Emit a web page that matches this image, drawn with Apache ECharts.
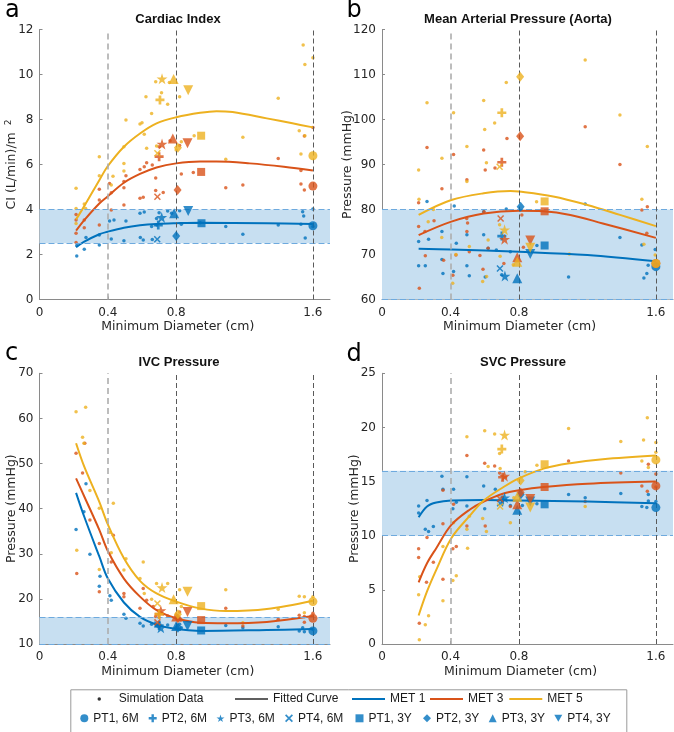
<!DOCTYPE html>
<html><head><meta charset="utf-8">
<script src="https://cdn.jsdelivr.net/npm/echarts@6/dist/echarts.min.js"></script>
<style>html,body{margin:0;padding:0;background:#fff}#c{width:674px;height:732px}</style>
</head><body><div id="c"></div>
<script>
// ---------- tick labels / axis ranges ----------
const xTicks = [0, 0.4, 0.8, 1.6];
const yMins = [0, 60, 10, 0];
const yMaxs = [12, 120, 70, 25];
const yIntervals = [2, 10, 10, 5];
const bandLo = [2.5, 60, 10, 10];
const bandHi = [4, 80, 16, 16];
const panelTitles = ['Cardiac Index', 'Mean Arterial Pressure (Aorta)', 'IVC Pressure', 'SVC Pressure'];
const panelLetters = ['a', 'b', 'c', 'd'];
const yNames = ['CI (L/min)/m {s|2}', 'Pressure (mmHg)', 'Pressure (mmHg)', 'Pressure (mmHg)'];
const metNames = ['MET 1', 'MET 3', 'MET 5'];
const ptNames = ['PT1, 6M', 'PT2, 6M', 'PT3, 6M', 'PT4, 6M', 'PT1, 3Y', 'PT2, 3Y', 'PT3, 3Y', 'PT4, 3Y'];

// ---------- panel a: Cardiac Index ----------
const aSim1 = [[0.218,1.93],[0.218,2.4],[0.262,2.23],[0.272,2.76],[0.35,2.42],[0.35,2.87],[0.41,3.49],[0.42,2.69],[0.436,3.53],[0.494,2.61],[0.506,3.49],[0.588,3.83],[0.59,2.76],[0.607,2.64],[0.613,3.89],[0.656,3.24],[0.66,2.67],[0.685,3.6],[0.687,3.31],[0.7,3.86],[0.75,3.93],[0.773,3.83],[0.82,3.95],[0.83,3.35],[0.94,3.41],[1.09,3.24],[1.19,2.9],[1.397,3.31],[1.53,3.35],[1.54,3.9],[1.555,2.73],[1.546,3.71],[1.6,4.02],[1.6,3.24]];
const aSim3 = [[0.214,3.78],[0.214,3.53],[0.214,2.94],[0.214,2.53],[0.262,3.53],[0.262,3.19],[0.35,4.9],[0.35,4.42],[0.35,3.31],[0.41,5.16],[0.42,4.75],[0.42,3.98],[0.494,5.24],[0.494,4.97],[0.494,4.2],[0.506,5.5],[0.588,5.78],[0.588,4.5],[0.607,4.54],[0.613,5.9],[0.627,6.08],[0.66,5.98],[0.68,5.4],[0.68,4.84],[0.7,6.79],[0.724,4.76],[0.764,7.06],[0.82,6.84],[0.83,5.58],[0.9,5.65],[1.09,4.97],[1.19,5.09],[1.397,6.27],[1.53,5.73],[1.53,5.13],[1.55,4.87],[1.55,7.27],[1.6,7.65]];
const aSim5 = [[0.214,4.94],[0.214,4.05],[0.214,3.38],[0.262,4.24],[0.27,4.05],[0.35,6.35],[0.35,5.5],[0.42,5.09],[0.43,5.48],[0.494,6.79],[0.494,6.05],[0.494,5.71],[0.506,7.98],[0.588,7.8],[0.6,7.86],[0.613,7.35],[0.623,9.01],[0.627,6.72],[0.656,8.27],[0.68,9.68],[0.685,6.82],[0.714,9.19],[0.75,8.68],[0.76,9.64],[0.8,6.64],[0.82,9.01],[0.83,7.01],[0.905,7.28],[1.09,6.23],[1.19,7.21],[1.397,8.94],[1.52,7.5],[1.53,6.47],[1.543,11.31],[1.553,10.45],[1.6,10.75],[1.553,7.28]];
const aFit1 = [[0.214,2.32],[0.262,2.57],[0.35,2.9],[0.397,3.01],[0.494,3.19],[0.588,3.3],[0.685,3.36],[0.8,3.39],[0.94,3.41],[1.33,3.39],[1.6,3.36]];
const aFit3 = [[0.214,3.06],[0.262,3.53],[0.35,4.27],[0.397,4.57],[0.494,5.19],[0.588,5.58],[0.685,5.87],[0.8,6.05],[0.94,6.13],[1.036,6.13],[1.23,6.05],[1.43,5.9],[1.6,5.73]];
const aFit5 = [[0.214,3.56],[0.262,4.15],[0.35,5.3],[0.397,5.9],[0.494,6.79],[0.588,7.38],[0.685,7.83],[0.8,8.1],[0.94,8.3],[1.036,8.37],[1.13,8.33],[1.33,8.05],[1.48,7.83],[1.6,7.65]];
const aPt1 = [[1.6,3.28],[0.695,3.31],[0.715,3.65],[0.689,2.68],[0.948,3.39],[0.8,2.82],[0.788,3.83],[0.87,3.93]];
const aPt3 = [[1.6,5.04],[0.7,6.35],[0.717,6.91],[0.69,4.57],[0.946,5.67],[0.808,4.87],[0.78,7.16],[0.866,6.94]];
const aPt5 = [[1.6,6.39],[0.705,8.87],[0.717,9.81],[0.69,6.5],[0.946,7.28],[0.81,6.75],[0.785,9.8],[0.87,9.3]];

// ---------- panel b: Mean Arterial Pressure ----------
const bSim1 = [[0.214,72.9],[0.214,67.5],[0.263,81.8],[0.253,67.5],[0.272,73.4],[0.35,75.1],[0.35,68.9],[0.356,65.8],[0.422,80.8],[0.418,66.2],[0.434,72.5],[0.496,74.4],[0.496,67.5],[0.51,65.3],[0.594,74.4],[0.594,79.5],[0.603,65.0],[0.62,71.4],[0.668,71.0],[0.7,65.5],[0.726,80.1],[0.75,70.6],[0.905,72.0],[1.09,65.0],[1.187,81.2],[1.39,73.8],[1.518,72.1],[1.53,64.8],[1.547,65.8],[1.555,67.6],[1.596,71.1]];
const bSim3 = [[0.214,81.5],[0.214,76.2],[0.218,62.5],[0.263,93.8],[0.253,69.7],[0.251,75.1],[0.304,77.5],[0.35,84.6],[0.36,68.7],[0.418,92.2],[0.414,65.4],[0.432,69.9],[0.496,86.6],[0.495,78.0],[0.5,77.0],[0.496,75.1],[0.51,70.6],[0.572,69.8],[0.596,79.5],[0.594,93.2],[0.603,88.8],[0.62,71.4],[0.59,66.7],[0.66,89.2],[0.712,68.0],[0.73,95.8],[0.817,78.8],[0.826,71.6],[1.187,98.4],[1.39,90.0],[1.518,79.9],[1.55,80.6],[1.547,74.7]];
const bSim5 = [[0.214,88.8],[0.216,82.3],[0.263,103.7],[0.27,77.3],[0.3,80.0],[0.35,91.4],[0.349,73.8],[0.418,101.5],[0.413,63.6],[0.432,70.0],[0.496,94.0],[0.496,86.2],[0.51,71.8],[0.594,104.2],[0.6,97.8],[0.61,90.4],[0.62,73.2],[0.588,64.0],[0.611,65.1],[0.658,99.2],[0.687,76.6],[0.69,69.6],[0.726,108.2],[0.767,67.7],[0.903,81.7],[1.094,70.1],[1.187,113.2],[1.39,101.0],[1.518,82.3],[1.53,72.3],[1.55,94.0],[1.596,69.9]];
const bFit1 = [[0.214,71.3],[0.405,71.1],[0.8,70.6],[1.2,69.9],[1.6,68.5]];
const bFit3 = [[0.214,74.3],[0.405,77.3],[0.594,79.1],[0.8,79.7],[0.944,79.6],[1.1,78.8],[1.29,76.9],[1.6,73.7]];
const bFit5 = [[0.214,78.8],[0.405,82.1],[0.594,83.6],[0.75,84.1],[0.8,84.0],[1.0,82.9],[1.2,81.0],[1.39,78.8],[1.6,76.3]];
const bPt1 = [[1.6,67.3],[0.7,74.1],[0.718,65.2],[0.689,66.9],[0.95,72.0],[0.81,80.6],[0.79,64.7],[0.866,70.1]];
const bPt3 = [[1.6,68.0],[0.7,90.5],[0.716,73.4],[0.693,78.0],[0.95,79.6],[0.807,96.3],[0.79,69.4],[0.866,73.1]];
const bPt5 = [[1.6,68.0],[0.7,101.5],[0.716,75.5],[0.687,89.5],[0.95,81.8],[0.807,109.5],[0.79,68.4],[0.866,71.5]];

// ---------- panel c: IVC Pressure ----------
const cSim1 = [[0.214,35.4],[0.26,39.3],[0.272,45.5],[0.295,29.9],[0.35,22.8],[0.354,25.0],[0.412,20.7],[0.42,19.7],[0.494,16.6],[0.506,15.7],[0.588,14.6],[0.607,14.0],[0.656,14.4],[0.685,14.0],[0.75,14.2],[0.82,14.4],[0.83,13.6],[1.09,14.1],[1.19,13.6],[1.397,13.8],[1.52,12.9],[1.54,13.6],[1.55,12.7],[1.6,13.2]];
const cSim3 = [[0.214,52.3],[0.218,25.6],[0.252,47.9],[0.265,54.5],[0.295,37.5],[0.35,32.3],[0.35,21.6],[0.42,28.2],[0.432,34.1],[0.494,21.2],[0.494,20.5],[0.588,17.9],[0.607,22.3],[0.627,19.7],[0.666,18.3],[0.68,16.1],[0.75,16.2],[0.82,17.1],[0.83,15.3],[1.09,17.9],[1.19,14.0],[1.397,15.5],[1.52,16.4],[1.55,16.1],[1.55,14.8],[1.6,16.8]];
const cSim5 = [[0.214,61.5],[0.218,30.8],[0.252,55.8],[0.27,62.5],[0.26,54.5],[0.295,44.0],[0.35,40.1],[0.35,26.5],[0.412,34.7],[0.432,41.2],[0.42,30.2],[0.506,28.9],[0.494,26.4],[0.588,24.5],[0.607,28.2],[0.613,21.2],[0.656,19.9],[0.685,23.4],[0.75,23.4],[0.82,22.0],[0.83,18.3],[1.09,22.0],[1.19,14.7],[1.397,17.7],[1.52,20.6],[1.55,20.5],[1.55,16.9],[1.6,20.5]];
const cFit1 = [[0.214,43.5],[0.262,38.2],[0.35,29.4],[0.4,24.5],[0.494,19.2],[0.588,16.0],[0.685,14.3],[0.8,13.3],[0.94,12.9],[1.33,13.1],[1.6,13.3]];
const cFit3 = [[0.214,46.7],[0.262,42.7],[0.35,35.3],[0.4,30.6],[0.494,24.5],[0.588,20.5],[0.685,17.5],[0.8,15.7],[0.94,14.7],[1.09,14.6],[1.33,14.9],[1.6,16.2]];
const cFit5 = [[0.214,54.5],[0.262,49.3],[0.35,41.5],[0.4,36.5],[0.494,29.0],[0.588,24.0],[0.685,21.2],[0.8,19.4],[0.94,17.9],[1.09,17.3],[1.33,17.75],[1.6,19.6]];
const cPt1 = [[1.6,12.9],[0.7,14.1],[0.71,13.6],[0.69,14.3],[0.946,13.0],[0.81,13.6],[0.8,14.0],[0.866,14.0]];
const cPt3 = [[1.6,15.7],[0.7,16.6],[0.71,17.4],[0.69,14.8],[0.946,15.3],[0.81,15.7],[0.8,16.1],[0.866,17.1]];
const cPt5 = [[1.6,19.4],[0.7,16.6],[0.717,22.5],[0.69,19.0],[0.946,18.4],[0.81,16.6],[0.785,19.9],[0.866,21.6]];

// ---------- panel d: SVC Pressure ----------
const dSim1 = [[0.214,12.75],[0.214,12.1],[0.263,13.25],[0.253,10.6],[0.272,10.4],[0.3,10.85],[0.35,15.5],[0.356,14.3],[0.418,14.3],[0.414,12.5],[0.434,13.1],[0.496,15.45],[0.496,12.75],[0.594,14.6],[0.6,12.5],[0.662,14.3],[0.75,12.8],[0.82,12.8],[0.905,12.95],[1.09,13.8],[1.187,13.5],[1.395,13.9],[1.518,12.7],[1.547,12.6],[1.556,13.8],[1.556,13.2],[1.6,13.15]];
const dSim3 = [[0.214,8.8],[0.214,7.98],[0.218,1.92],[0.263,9.83],[0.26,5.7],[0.3,7.55],[0.356,14.2],[0.356,11.1],[0.356,5.98],[0.418,12.9],[0.414,8.8],[0.434,9.0],[0.496,17.4],[0.496,10.9],[0.6,16.7],[0.603,10.9],[0.658,16.45],[0.687,15.8],[0.75,12.7],[1.09,16.9],[1.187,13.15],[1.395,15.8],[1.518,14.6],[1.55,14.1],[1.556,16.6],[1.6,15.7],[1.6,14.5]];
const dSim5 = [[0.214,4.54],[0.218,0.4],[0.22,6.2],[0.253,1.77],[0.272,2.6],[0.356,4.0],[0.356,9.0],[0.414,5.86],[0.434,6.3],[0.418,11.2],[0.496,10.6],[0.5,8.85],[0.496,19.15],[0.51,11.8],[0.588,11.6],[0.6,19.7],[0.61,10.4],[0.62,16.4],[0.658,19.4],[0.687,17.6],[0.69,16.2],[0.75,11.2],[0.77,13.5],[0.837,15.9],[0.905,16.5],[1.09,19.9],[1.187,12.7],[1.395,18.7],[1.528,18.85],[1.518,16.9],[1.55,20.9],[1.556,16.3],[1.6,18.6],[1.6,17.7]];
const dFit1 = [[0.214,11.7],[0.263,12.7],[0.317,13.06],[0.405,13.25],[0.594,13.3],[0.8,13.25],[1.2,13.15],[1.6,13.0]];
const dFit3 = [[0.214,5.7],[0.263,7.46],[0.317,8.85],[0.405,11.0],[0.516,12.45],[0.594,13.15],[0.71,13.9],[0.8,14.2],[0.944,14.5],[1.2,14.8],[1.6,15.0]];
const dFit5 = [[0.214,2.63],[0.263,4.85],[0.317,6.85],[0.405,9.77],[0.516,11.9],[0.594,13.25],[0.71,14.5],[0.8,15.3],[0.944,16.2],[1.1,16.7],[1.29,17.06],[1.6,17.4]];
const dPt1 = [[1.6,12.6],[0.705,13.3],[0.716,13.5],[0.69,13.0],[0.95,12.9],[0.81,13.8],[0.79,12.4],[0.866,13.15]];
const dPt3 = [[1.6,14.6],[0.705,15.4],[0.716,15.5],[0.69,13.4],[0.95,14.5],[0.81,14.0],[0.79,12.9],[0.866,13.4]];
const dPt5 = [[1.6,17.0],[0.7,18.0],[0.716,19.3],[0.69,12.7],[0.95,16.6],[0.81,15.1],[0.79,13.6],[0.866,12.6]];

// ---------- styling ----------
const COLORS = ['#0072BD', '#D95319', '#EDB120'];
const PLUS = 'path://M3.5,0H6.5V3.5H10V6.5H6.5V10H3.5V6.5H0V3.5H3.5Z';
const STAR = 'path://M5,0L6.18,3.62L10,3.62L6.91,5.86L8.09,9.5L5,7.26L1.91,9.5L3.09,5.86L0,3.62L3.82,3.62Z';
const XMARK = 'path://M0,1.5L1.5,0L5,3.5L8.5,0L10,1.5L6.5,5L10,8.5L8.5,10L5,6.5L1.5,10L0,8.5L3.5,5Z';
const DOWNTRI = 'path://M0,0L10,0L5,8.66Z';
const SYMBOLS = ['circle', PLUS, STAR, XMARK, 'rect', 'diamond', 'triangle', DOWNTRI];
const SYMSIZE = [9, 9, 11, 7, 8, [8, 10], 10, 10];
const AXIS_C = '#8a8a8a';
const TXT_C = '#262626';
const BAND_FILL = 'rgb(199,223,241)';
const BAND_EDGE = '#6eaade';

const panels = [
  {sim: [aSim1, aSim3, aSim5], fit: [aFit1, aFit3, aFit5], pt: [aPt1, aPt3, aPt5]},
  {sim: [bSim1, bSim3, bSim5], fit: [bFit1, bFit3, bFit5], pt: [bPt1, bPt3, bPt5]},
  {sim: [cSim1, cSim3, cSim5], fit: [cFit1, cFit3, cFit5], pt: [cPt1, cPt3, cPt5]},
  {sim: [dSim1, dSim3, dSim5], fit: [dFit1, dFit3, dFit5], pt: [dPt1, dPt3, dPt5]}
];

const gridPos = [
  {left: 39.5, top: 29.5, width: 290.5, height: 270},
  {left: 382, top: 29.5, width: 291, height: 270},
  {left: 39.5, top: 373.3, width: 290.5, height: 270.7},
  {left: 382, top: 373.3, width: 291, height: 270.7}
];
const titleX = [178, 518, 179, 523];
const titleY = [12.5, 12.5, 356, 356];
const letterX = [5, 346.5, 5, 346.5];
const letterY = [-1, -1, 341.5, 342.5];
const yNameGap = [19.5, 26, 19.5, 19.3];
const xNamePad = [14, 16, 14, 14];

const grid = gridPos.map(g => Object.assign({outerBoundsMode: 'none', containLabel: false}, g));

const xAxis = gridPos.map((g, i) => ({
  type: 'value', gridIndex: i, min: 0, max: 1.7,
  axisLine: {show: true, onZero: false, lineStyle: {color: AXIS_C, width: 1}},
  axisTick: {show: true, inside: true, length: 3, customValues: xTicks, lineStyle: {color: AXIS_C}},
  axisLabel: {customValues: xTicks, color: TXT_C, fontFamily: 'DejaVu Sans', fontSize: 12, margin: 7},
  splitLine: {show: false},
  name: 'Minimum Diameter (cm)', nameLocation: 'middle', nameGap: 21, nameMoveOverlap: false,
  nameTextStyle: {color: TXT_C, fontFamily: 'DejaVu Sans', fontSize: 12.5, padding: [0, xNamePad[i], 0, 0]}
}));

const yAxis = gridPos.map((g, i) => ({
  type: 'value', gridIndex: i, min: yMins[i], max: yMaxs[i], interval: yIntervals[i],
  axisLine: {show: true, onZero: false, lineStyle: {color: AXIS_C, width: 1}},
  axisTick: {show: true, inside: true, length: 3, lineStyle: {color: AXIS_C}},
  axisLabel: {color: TXT_C, fontFamily: 'DejaVu Sans', fontSize: 12, margin: 6},
  splitLine: {show: false},
  name: yNames[i], nameLocation: 'middle', nameGap: yNameGap[i], nameRotate: 90, nameMoveOverlap: false,
  nameTextStyle: {color: TXT_C, fontFamily: 'DejaVu Sans', fontSize: 12.5, lineHeight: 16,
    rich: {s: {fontSize: 9, verticalAlign: 'top', lineHeight: 16, padding: [0, 0, 0, 3], fontFamily: 'DejaVu Sans', color: TXT_C}}}
}));

const series = [];
panels.forEach((p, i) => {
  // band + reference lines
  series.push({
    type: 'line', name: 'band' + i, xAxisIndex: i, yAxisIndex: i, data: [], silent: true, z: 1,
    markArea: {silent: true, itemStyle: {color: BAND_FILL}, data: [[{yAxis: bandLo[i]}, {yAxis: bandHi[i]}]]},
    markLine: {
      silent: true, symbol: ['none', 'none'], label: {show: false}, animation: false,
      data: [
        {yAxis: bandLo[i], lineStyle: {color: BAND_EDGE, type: [6, 3], width: 1}},
        {yAxis: bandHi[i], lineStyle: {color: BAND_EDGE, type: [6, 3], width: 1}},
        {xAxis: xTicks[1], lineStyle: {color: '#adadad', type: [6, 4], width: 1.6}},
        {xAxis: xTicks[2], lineStyle: {color: '#5a5a5a', type: [5, 3], width: 1}},
        {xAxis: xTicks[3], lineStyle: {color: '#5a5a5a', type: [5, 3], width: 1}}
      ]
    }
  });
  p.sim.forEach((d, k) => series.push({
    type: 'scatter', name: 'sim' + i + k, xAxisIndex: i, yAxisIndex: i, data: d,
    symbol: 'circle', symbolSize: 3.5, itemStyle: {color: COLORS[k]}, z: 3, silent: true
  }));
  p.fit.forEach((d, k) => series.push({
    type: 'line', name: 'fit' + i + k, xAxisIndex: i, yAxisIndex: i, data: d,
    smooth: 0.35, showSymbol: false, symbol: 'none', lineStyle: {color: COLORS[k], width: 2}, z: 4, silent: true
  }));
  p.pt.forEach((d, k) => series.push({
    type: 'scatter', name: 'pt' + i + k, xAxisIndex: i, yAxisIndex: i,
    data: d.map((v, j) => ({value: v, symbol: SYMBOLS[j], symbolSize: SYMSIZE[j]})),
    itemStyle: {color: COLORS[k]}, z: 5, silent: true
  }));
});

// legend-only series
series.push({type: 'scatter', name: 'Simulation Data', xAxisIndex: 0, yAxisIndex: 0, data: [], itemStyle: {color: '#000'}});
series.push({type: 'line', name: 'Fitted Curve', xAxisIndex: 0, yAxisIndex: 0, data: [], itemStyle: {color: '#5f5f5f'}, lineStyle: {color: '#5f5f5f'}});
metNames.forEach((n, k) => series.push({type: 'line', name: n, xAxisIndex: 0, yAxisIndex: 0, data: [], itemStyle: {color: COLORS[k]}, lineStyle: {color: COLORS[k]}}));
ptNames.forEach((n, j) => series.push({type: 'scatter', name: n, xAxisIndex: 0, yAxisIndex: 0, data: [], symbol: SYMBOLS[j], itemStyle: {color: COLORS[0]}}));

const legTxt = {fontFamily: 'Liberation Sans', fontSize: 12, color: '#1a1a1a'};
const legends = [];
function addLegend(name, icon, left, centerY, w, h) {
  legends.push({
    data: [{name: name, icon: icon}], left: left, top: centerY - 7, padding: 0,
    itemWidth: w, itemHeight: h, selectedMode: false, textStyle: legTxt, orient: 'horizontal'
  });
}
const row1Left = [97.5, 235, 352, 430, 509.3];
addLegend('Simulation Data', 'circle', row1Left[0], 700, 29, 3.5);
addLegend('Fitted Curve', 'rect', row1Left[1], 700, 33, 2);
metNames.forEach((n, k) => addLegend(n, 'rect', row1Left[k + 2], 700, 33, 2));
const row2Left = [80.3, 148.7, 216.5, 285, 355.5, 423, 488.7, 554.3];
ptNames.forEach((n, j) => addLegend(n, SYMBOLS[j], row2Left[j], 719.3, 8, 8));

const titles = [];
panelTitles.forEach((t, i) => titles.push({
  text: t, left: titleX[i], top: titleY[i], textAlign: 'center', padding: 0,
  textStyle: {fontFamily: 'Liberation Sans', fontWeight: 'bold', fontSize: 13, color: '#111'}
}));
panelLetters.forEach((t, i) => titles.push({
  text: t, left: letterX[i], top: letterY[i], padding: 0,
  textStyle: {fontFamily: 'DejaVu Sans', fontWeight: 'normal', fontSize: 24, color: '#000'}
}));

const chart = echarts.init(document.getElementById('c'), null, {renderer: 'canvas'});
chart.setOption({
  backgroundColor: '#fff',
  animation: false,
  title: titles,
  grid: grid,
  xAxis: xAxis,
  yAxis: yAxis,
  legend: legends,
  graphic: [{type: 'rect', left: 68.3, top: 687.3, shape: {x: 0, y: 0, width: 556, height: 43.5},
    style: {fill: 'none', stroke: '#9a9a9a', lineWidth: 1}, silent: true}],
  series: series
});
</script>
</body></html>
